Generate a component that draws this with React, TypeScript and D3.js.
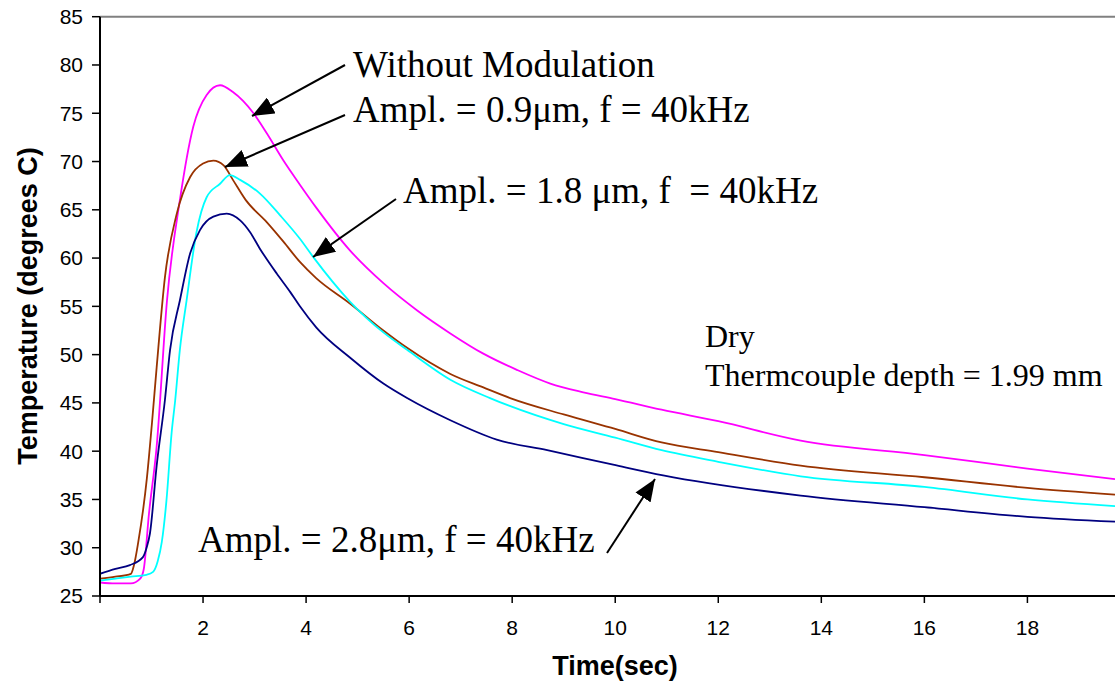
import React from 'react'
import * as d3 from 'd3'

// time (s) and temperature (deg C)
const tNoMod = [0, 0.3, 0.6, 0.78, 0.85, 0.95, 1.1, 1.3, 1.55, 1.81, 2.07, 2.33, 2.58, 2.98, 3.24, 3.56, 3.88, 4.2, 4.85, 5.5, 6.15, 6.8, 7.44, 8.1, 8.74, 9.38, 10, 10.9, 12, 13.6, 16, 18, 19.7]
const vNoMod = [26.4, 26.3, 26.3, 26.8, 27.8, 33.5, 40.5, 55.6, 66, 73.6, 76.9, 77.9, 77.2, 75, 72.9, 70.1, 67.6, 65.2, 60.8, 57.4, 54.6, 52.2, 50.1, 48.4, 47, 46.1, 45.4, 44.3, 43.1, 41.1, 39.6, 38.2, 37.1]

const tAmp09 = [0, 0.3, 0.6, 0.66, 0.74, 0.91, 1.01, 1.1, 1.26, 1.49, 1.75, 2.0, 2.2, 2.4, 2.58, 2.83, 3.24, 3.56, 3.88, 4.2, 4.85, 5.5, 5.96, 6.8, 7.44, 7.96, 9, 10, 10.9, 12, 13.6, 16, 18, 19.7]
const vAmp09 = [26.8, 27.0, 27.3, 28.2, 30.5, 37.2, 43, 48.7, 58, 64.6, 68.4, 69.8, 70.1, 69.6, 68.1, 66.0, 63.7, 61.7, 59.6, 57.9, 55.3, 52.5, 50.7, 48.0, 46.6, 45.5, 43.8, 42.3, 40.9, 39.9, 38.5, 37.3, 36.2, 35.5]

const tAmp18 = [0, 0.3, 0.6, 0.9, 1.03, 1.12, 1.2, 1.29, 1.39, 1.46, 1.55, 1.68, 1.87, 2.07, 2.33, 2.52, 2.72, 3.1, 3.5, 3.88, 4.14, 4.85, 5.5, 5.96, 6.8, 7.57, 9, 10, 10.9, 12, 13.6, 16, 18, 19.7]
const vAmp18 = [26.6, 26.8, 27.0, 27.2, 27.5, 28.6, 30.6, 34.9, 41.9, 45.3, 50.5, 55.6, 62.6, 66.3, 67.7, 68.6, 68.1, 66.7, 64.4, 62.0, 60.1, 55.5, 52.3, 50.5, 47.4, 45.5, 42.8, 41.4, 40.1, 38.9, 37.4, 36.3, 35.0, 34.3]

const tAmp28 = [0, 0.3, 0.58, 0.83, 0.91, 0.97, 1.1, 1.26, 1.36, 1.55, 1.75, 1.94, 2.2, 2.46, 2.72, 2.91, 3.1, 3.43, 3.69, 3.88, 4.2, 4.85, 5.5, 5.96, 6.8, 7.7, 8.68, 9.96, 10.93, 13.6, 16, 18, 19.7]
const vAmp28 = [27.3, 27.8, 28.2, 29.0, 30.1, 31.5, 38.5, 45.3, 50.5, 55.6, 60.5, 62.9, 64.3, 64.6, 63.9, 62.7, 61.0, 58.4, 56.5, 55.0, 52.8, 49.7, 47.0, 45.5, 43.2, 41.2, 40.1, 38.6, 37.5, 35.4, 34.2, 33.2, 32.7]

const xTicks = [0, 2, 4, 6, 8, 10, 12, 14, 16, 18]
const yTicks = [25, 30, 35, 40, 45, 50, 55, 60, 65, 70, 75, 80, 85]

const series = [
  { name: 'Without Modulation', t: tNoMod, v: vNoMod, color: '#ff00ff' },
  { name: 'Ampl. = 0.9um', t: tAmp09, v: vAmp09, color: '#993300' },
  { name: 'Ampl. = 1.8um', t: tAmp18, v: vAmp18, color: '#00ffff' },
  { name: 'Ampl. = 2.8um', t: tAmp28, v: vAmp28, color: '#000080' }
]

const W = 1115
const H = 684
const left = 100
const right = 1115
const top = 16.7
const bottom = 596

const x = d3.scaleLinear().domain([0, 19.7]).range([left, right])
const y = d3.scaleLinear().domain([25, 85]).range([bottom, top])

const serif = '"Liberation Serif", "Times New Roman", serif'
const sans = '"Liberation Sans", Arial, sans-serif'

export default function App() {
  const line = d3
    .line<number>()
    .curve(d3.curveMonotoneX)

  return (
    <svg width={W} height={H} style={{ position: 'absolute', left: 0, top: 0, background: '#fff' }}>
      <defs>
        <marker id="head" viewBox="0 0 22 18" refX="22" refY="9" markerWidth="22" markerHeight="18"
          markerUnits="userSpaceOnUse" orient="auto">
          <path d="M0,0 L22,9 L0,18 Z" fill="#000" />
        </marker>
        <clipPath id="plot">
          <rect x={left} y={top - 2} width={right - left} height={bottom - top + 2} />
        </clipPath>
      </defs>

      <line x1={left} x2={right} y1={top} y2={top} stroke="#808080" strokeWidth={2} />

      <g clipPath="url(#plot)">
        {series.map(s => (
          <path
            key={s.name}
            d={line.x((_, i) => x(s.t[i])).y(d => y(d))(s.v) || ''}
            fill="none"
            stroke={s.color}
            strokeWidth={1.8}
          />
        ))}
      </g>

      <line x1={left} x2={left} y1={top} y2={bottom} stroke="#000" strokeWidth={2} />
      <line x1={left} x2={right} y1={bottom} y2={bottom} stroke="#000" strokeWidth={2} />

      {yTicks.map(v => (
        <g key={v}>
          <line x1={left - 8} x2={left} y1={y(v)} y2={y(v)} stroke="#000" strokeWidth={1.5} />
          <text x={83} y={y(v)} dy="0.35em" textAnchor="end" fontFamily={sans} fontSize={21}>{v}</text>
        </g>
      ))}
      {xTicks.map(v => (
        <g key={v}>
          <line x1={x(v)} x2={x(v)} y1={bottom} y2={bottom + 7} stroke="#000" strokeWidth={1.5} />
          {v > 0 && (
            <text x={x(v)} y={635} textAnchor="middle" fontFamily={sans} fontSize={21}>{v}</text>
          )}
        </g>
      ))}

      <text x={615} y={675} textAnchor="middle" fontFamily={sans} fontSize={27} fontWeight="bold">Time(sec)</text>
      <text transform="translate(37,306) rotate(-90)" textAnchor="middle" fontFamily={sans} fontSize={27}
        fontWeight="bold">Temperature (degrees C)</text>

      <g fontFamily={serif} fontSize={37} fill="#000">
        <text x={353} y={77}>Without Modulation</text>
        <text x={353} y={122}>Ampl. = 0.9μm, f = 40kHz</text>
        <text x={403} y={203} style={{ whiteSpace: 'pre' }}>Ampl. = 1.8 μm, f  = 40kHz</text>
        <text x={198} y={552}>Ampl. = 2.8μm, f = 40kHz</text>
      </g>
      <g fontFamily={serif} fontSize={32} fill="#000">
        <text x={705} y={347}>Dry</text>
        <text x={705} y={386}>Thermcouple depth = 1.99 mm</text>
      </g>

      <g stroke="#000" strokeWidth={2}>
        <line x1={345} y1={65} x2={252} y2={116} markerEnd="url(#head)" />
        <line x1={345} y1={115} x2={225} y2={167} markerEnd="url(#head)" />
        <line x1={396} y1={199} x2={313} y2={257} markerEnd="url(#head)" />
        <line x1={607} y1={553} x2={655} y2={479} markerEnd="url(#head)" />
      </g>
    </svg>
  )
}
